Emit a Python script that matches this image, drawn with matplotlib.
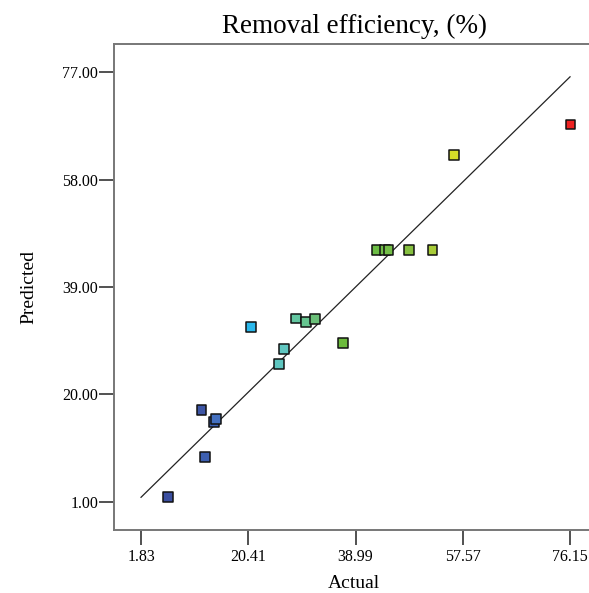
import matplotlib
matplotlib.use("Agg")
import matplotlib.pyplot as plt

# actual vs predicted values
actual = [6.5, 12.9, 12.3, 14.5, 14.8, 20.9, 25.7, 26.6, 28.7, 30.4, 32.0,
          36.8, 42.6, 44.1, 44.7, 48.2, 52.3, 56.0, 76.2]
predicted = [1.9, 8.9, 17.3, 15.1, 15.7, 31.9, 25.4, 28.0, 33.4, 32.8, 33.3,
             29.1, 45.5, 45.5, 45.5, 45.5, 45.5, 62.3, 67.7]
colors = ['#3b4fa0', '#3d5fb0', '#3d55a5', '#3d62b5', '#4470c0', '#2ab8ec',
          '#5ec6c0', '#60c6c0', '#62c6a0', '#66c590', '#6abf78', '#6cbb3c',
          '#6cbd45', '#70be48', '#74be48', '#86c040', '#a8cc38', '#d5dc28',
          '#ee2222']
xticks = [1.83, 20.41, 38.99, 57.57, 76.15]
yticks = [1.00, 20.00, 39.00, 58.00, 77.00]

plt.rcParams['font.family'] = ['Liberation Serif', 'DejaVu Serif']

fig = plt.figure(figsize=(5.89, 5.93), dpi=100)
ax = fig.add_axes([114/589, 63/593, 480/589, 486/593])

ax.plot([xticks[0], xticks[-1]], [xticks[0], xticks[-1]], color='#222222', lw=0.9)
ax.scatter(actual, predicted, marker='s', s=48, c=colors, edgecolors='#111111',
           linewidths=1.1, zorder=3)

ax.set_xlim(-2.85, 80.3)
ax.set_ylim(-3.95, 81.95)
ax.set_xticks(xticks)
ax.set_xticklabels(['%.2f' % v for v in xticks])
ax.set_yticks(yticks)
ax.set_yticklabels(['%.2f' % v for v in yticks])
ax.tick_params(axis='both', direction='out', length=11, width=1.1,
               labelsize=11.5, color='#222222')
ax.tick_params(axis='y', pad=0.5)
ax.tick_params(axis='x', pad=3)
for s in ax.spines.values():
    s.set_color('#777777')
    s.set_linewidth(1.4)

ax.set_title('Removal efficiency, (%)', fontsize=19.5, pad=8)
ax.set_xlabel('Actual', fontsize=14, labelpad=7)
ax.set_ylabel('Predicted', fontsize=14, labelpad=18)

fig.savefig('out.png', dpi=100)
